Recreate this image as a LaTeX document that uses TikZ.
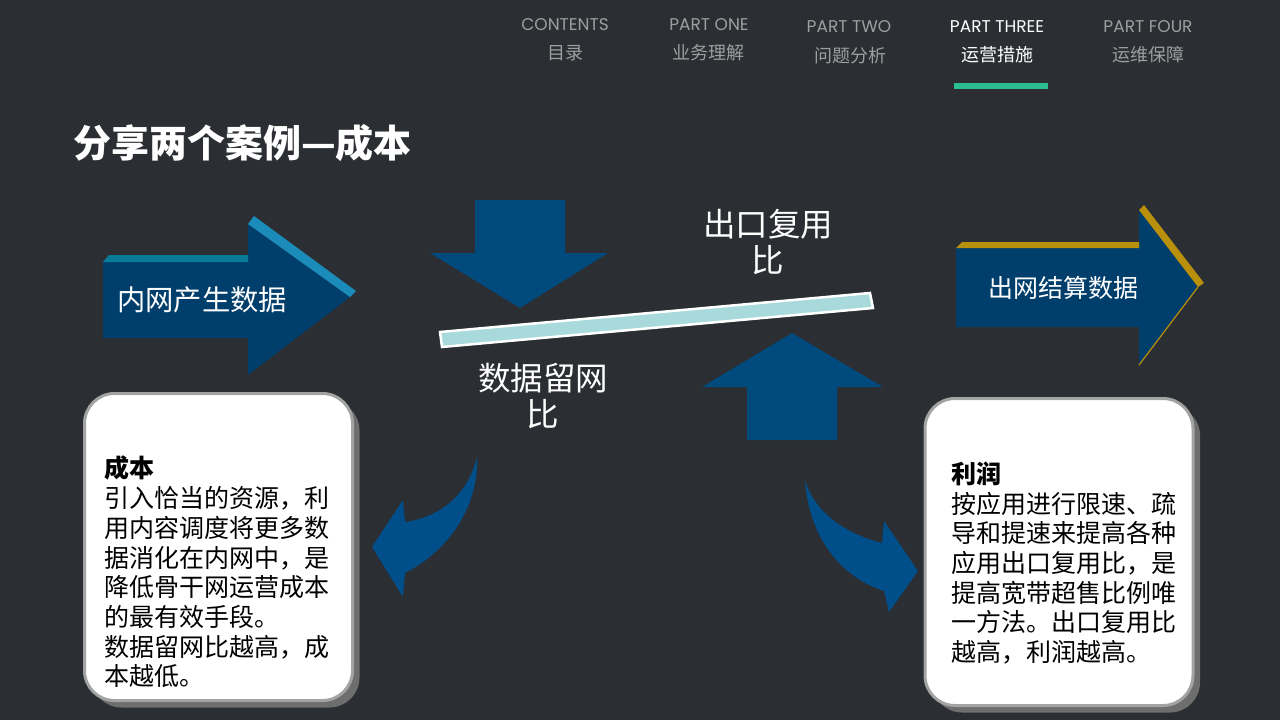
\documentclass[tikz,border=0pt]{standalone}
\usepackage{fontspec}
\setmainfont{Noto Sans CJK SC}
\newfontfamily\latinfont{Poppins}
\usepackage{tikz}
\usetikzlibrary{shadows}

\definecolor{bgdark}{HTML}{2B2E32}
\definecolor{navgray}{HTML}{9E9E9E}
\definecolor{navgreen}{HTML}{2BBE8E}
\definecolor{flowblue}{HTML}{003E6C}
\definecolor{pushblue}{HTML}{004A7E}
\definecolor{bendblue}{HTML}{004F8A}
\definecolor{tealedge}{HTML}{1B8CBA}
\definecolor{tealtop}{HTML}{0A7A99}
\definecolor{goldedge}{HTML}{B8900C}
\definecolor{barcyan}{HTML}{A8DADB}
\definecolor{boxline}{HTML}{A3A3A3}
\definecolor{boxshadow}{HTML}{6E6E6E}

\begin{document}
\begin{tikzpicture}[x=1pt, y=-1pt,
    navlatin/.style={text=navgray, font=\latinfont\fontsize{17}{17}\selectfont, inner sep=0pt},
    navchinese/.style={text=navgray, font=\fontsize{18}{18}\selectfont, inner sep=0pt},
    ratiotext/.style={text=white, align=center, font=\fontsize{32.5}{36}\selectfont, inner sep=0pt},
    notebox/.style={draw=boxline, line width=3pt, fill=white, rounded corners=30pt,
        minimum width=268pt, minimum height=307pt,
        drop shadow={shadow xshift=7pt, shadow yshift=-7pt, fill=boxshadow, opacity=1}},
    notetext/.style={text=black, align=left, anchor=west, inner sep=0pt,
        font=\fontsize{25}{29.7}\selectfont}]
        \useasboundingbox (0,0) rectangle (1280,720);
        \fill[bgdark] (0,0) rectangle (1280,720);

        % navigation
        \node[navlatin] (navContents) at (565,25) {CONTENTS};
        \node[navchinese] (navContentsCn) at (565,53) {目录};
        \node[navlatin] (navOne) at (709,25) {PART ONE};
        \node[navchinese] (navOneCn) at (708,53) {业务理解};
        \node[navlatin] (navTwo) at (849,27) {PART TWO};
        \node[navchinese] (navTwoCn) at (850,56) {问题分析};
        \node[navlatin, text=white] (navThree) at (997,27) {PART THREE};
        \node[navchinese, text=white] (navThreeCn) at (997,55) {运营措施};
        \node[navlatin] (navFour) at (1148,27) {PART FOUR};
        \node[navchinese] (navFourCn) at (1148,55) {运维保障};
        \fill[navgreen] (954,83) rectangle (1048,89);

        \node[anchor=west, text=white, inner sep=0pt, font=\fontsize{38}{38}\selectfont\bfseries] (title) at (73,143) {分享两个案例—成本};

        % inflow arrow
        \fill[flowblue] (103,262) -- (248,262) -- (248,224) -- (350,297) -- (248,375) -- (248,338) -- (103,338) -- cycle;
        \fill[tealtop] (103,262) -- (109,255) -- (248,255) -- (248,262) -- cycle;
        \fill[tealedge] (248,224) -- (254,216) -- (356,291) -- (350,297) -- cycle;
        \node[text=white, inner sep=0pt, font=\fontsize{28.3}{28.3}\selectfont] (inflowText) at (202,300) {内网产生数据};

        % outflow arrow
        \fill[flowblue] (956,248) -- (1139,248) -- (1139,210) -- (1198,287) -- (1139,365) -- (1139,327) -- (956,327) -- cycle;
        \fill[goldedge] (956,248) -- (962,242) -- (1139,242) -- (1139,248) -- cycle;
        \fill[goldedge] (1139,210) -- (1144,205) -- (1204,283) -- (1198,287) -- cycle;
        \draw[goldedge, line width=1.2pt] (1198,287) -- (1139,365);
        \node[text=white, inner sep=0pt, font=\fontsize{25}{25}\selectfont] (outflowText) at (1063,288) {出网结算数据};

        % pressing arrows and the lever
        \fill[pushblue] (475,200) -- (565,200) -- (565,253) -- (608,253) -- (520,308) -- (430,253) -- (475,253) -- cycle;
        \fill[pushblue] (747,440) -- (837,440) -- (837,387) -- (883,387) -- (792,333) -- (702,387) -- (747,387) -- cycle;
        \filldraw[fill=barcyan, draw=white, line width=2.5pt] (440,332) -- (870,293) -- (873,308) -- (442,347) -- cycle;
        \node[ratiotext] (reuseRatio) at (768,242) {出口复用\\比};
        \node[ratiotext] (retainRatio) at (543,396) {数据留网\\比};

        % bent arrows
        \fill[bendblue] (477,457) .. controls (479,505) and (450,550) .. (405,573) -- (403,597) -- (372,547) -- (403,500) -- (405,522) .. controls (440,517) and (468,495) .. (477,457) -- cycle;
        \fill[bendblue] (805,480) .. controls (808,530) and (835,575) .. (884,591) -- (889,612) -- (918,571) -- (884,521) -- (882,543) .. controls (850,535) and (815,515) .. (805,480) -- cycle;

        % notes
        \node[notebox] (costBox) at (218.5,547) {};
        \node[notetext] (costText) at (104,572) {{\bfseries 成本}\\引入恰当的资源，利\\用内容调度将更多数\\据消化在内网中，是\\降低骨干网运营成本\\的最有效手段。\\数据留网比越高，成\\本越低。};
        \node[notebox] (profitBox) at (1059,552) {};
        \node[notetext] (profitText) at (951,563) {{\bfseries 利润}\\按应用进行限速、疏\\导和提速来提高各种\\应用出口复用比，是\\提高宽带超售比例唯\\一方法。出口复用比\\越高，利润越高。};
      \end{tikzpicture}
\end{document}
